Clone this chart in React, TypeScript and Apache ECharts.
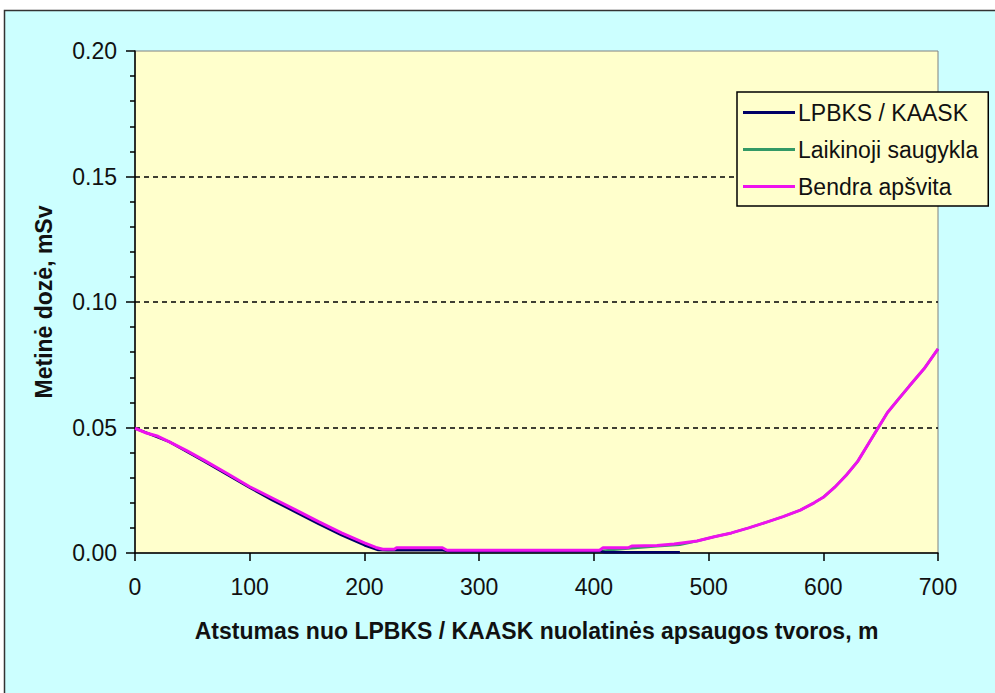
import React, { useEffect, useRef } from "react";
import * as echarts from "echarts";

// Distances (m) and annual doses (mSv)
const bendraX = [0, 10, 20, 30, 45, 60, 80, 100, 120, 140, 160, 180, 200, 210, 216, 226, 228, 268, 272, 405, 408, 430, 433, 455, 470, 490, 505, 520, 535, 550, 565, 580, 592, 600, 610, 620, 630, 640, 648, 656, 665, 675, 688, 700];
const bendraY = [0.0497, 0.0478, 0.0465, 0.0443, 0.0408, 0.037, 0.0318, 0.0264, 0.0218, 0.0172, 0.0125, 0.008, 0.004, 0.0022, 0.0015, 0.0015, 0.0021, 0.0021, 0.0011, 0.0011, 0.0021, 0.0021, 0.0028, 0.003, 0.0036, 0.0048, 0.0065, 0.008, 0.01, 0.0122, 0.0145, 0.0171, 0.02, 0.0222, 0.0262, 0.031, 0.0365, 0.044, 0.05, 0.056, 0.061, 0.0665, 0.0735, 0.0813];

const lpbksX = [0, 30, 60, 100, 120, 140, 160, 180, 200, 212, 220, 268, 275, 405, 410, 475];
const lpbksY = [0.0497, 0.0443, 0.0366, 0.026, 0.021, 0.0163, 0.0116, 0.0071, 0.0031, 0.0012, 0.0011, 0.0011, 0.0007, 0.0007, 0.0003, 0.0003];

const saugyklaX = [405, 430, 455, 475, 490, 505, 520, 535, 550, 565, 580, 592, 600, 610, 620, 630, 640, 648, 656, 665, 675, 688, 700];
const saugyklaY = [0.0008, 0.0018, 0.0027, 0.0033, 0.0048, 0.0065, 0.008, 0.01, 0.0122, 0.0145, 0.0171, 0.02, 0.0222, 0.0262, 0.031, 0.0365, 0.044, 0.05, 0.056, 0.061, 0.0665, 0.0735, 0.0813];

const seriesNames = ["LPBKS / KAASK", "Laikinoji saugykla", "Bendra apšvita"];
const seriesColors = ["#000066", "#339966", "#EE11EE"];
const xTitle = "Atstumas nuo LPBKS / KAASK nuolatinės apsaugos tvoros, m";
const yTitle = "Metinė dozė, mSv";

const FONT = "'Liberation Sans', Arial, sans-serif";

function pairs(xs: number[], ys: number[]) {
  return xs.map((x, i) => [x, ys[i]]);
}

export default function App() {
  const ref = useRef<HTMLDivElement>(null);
  useEffect(() => {
    if (!ref.current) return;
    const chart = echarts.init(ref.current, null, { renderer: "svg" });
    chart.setOption({
      animation: false,
      backgroundColor: "#CCFFFF",
      textStyle: { fontFamily: FONT },
      graphic: [
        { type: "rect", shape: { x: 0, y: 0, width: 995, height: 10 }, style: { fill: "#ffffff" }, silent: true },
        { type: "rect", shape: { x: 0, y: 0, width: 4, height: 693 }, style: { fill: "#ffffff" }, silent: true },
        {
          type: "polyline",
          shape: { points: [[4.5, 693], [4.5, 10.5], [995, 10.5]] },
          style: { stroke: "#333333", lineWidth: 1.5, fill: null },
          silent: true,
        },
      ],
      grid: {
        left: 135,
        top: 51,
        right: 57,
        bottom: 140,
        show: true,
        backgroundColor: "#FFFFCC",
        borderColor: "#808080",
        borderWidth: 1,
      },
      legend: {
        data: seriesNames,
        orient: "vertical",
        left: 737,
        top: 92,
        backgroundColor: "#FFFFCC",
        borderColor: "#000000",
        borderWidth: 1.5,
        borderRadius: 0,
        padding: [9, 10, 8, 6],
        itemGap: 14,
        itemWidth: 52,
        itemHeight: 3,
        itemStyle: { borderWidth: 0 },
        icon: "rect",
        textStyle: { fontSize: 23, color: "#111111", fontFamily: FONT, padding: [0, 0, 0, -2] },
      },
      xAxis: {
        type: "value",
        min: 0,
        max: 700,
        interval: 100,
        name: xTitle,
        nameLocation: "middle",
        nameGap: 66,
        nameTextStyle: { fontSize: 23, fontWeight: "bold", color: "#111111", fontFamily: FONT },
        axisLine: { show: true, onZero: false, lineStyle: { color: "#000000", width: 1.5 } },
        axisTick: { show: true, length: 8, lineStyle: { color: "#000000", width: 1.5 } },
        axisLabel: { fontSize: 23, color: "#111111", margin: 22, fontFamily: FONT },
        splitLine: { show: false },
      },
      yAxis: {
        type: "value",
        min: 0,
        max: 0.2,
        interval: 0.05,
        name: yTitle,
        nameLocation: "middle",
        nameRotate: 90,
        nameGap: 80,
        nameTextStyle: { fontSize: 23, fontWeight: "bold", color: "#111111", fontFamily: FONT },
        axisLine: { show: true, lineStyle: { color: "#000000", width: 1.5 } },
        axisTick: { show: true, length: 9, lineStyle: { color: "#000000", width: 1.5 } },
        minorTick: { show: true, splitNumber: 5, length: 5, lineStyle: { color: "#000000", width: 1.5 } },
        axisLabel: {
          fontSize: 23,
          color: "#111111",
          margin: 18,
          fontFamily: FONT,
          formatter: (v: number) => v.toFixed(2),
        },
        splitLine: {
          show: true,
          showMinLine: false,
          showMaxLine: false,
          lineStyle: { color: "#000000", width: 1.7, type: [5, 4] },
        },
      },
      series: [
        {
          name: seriesNames[0],
          type: "line",
          data: pairs(lpbksX, lpbksY),
          showSymbol: false,
          symbol: "none",
          color: seriesColors[0],
          lineStyle: { color: seriesColors[0], width: 2.5 },
          z: 3,
        },
        {
          name: seriesNames[1],
          type: "line",
          data: pairs(saugyklaX, saugyklaY),
          showSymbol: false,
          symbol: "none",
          color: seriesColors[1],
          lineStyle: { color: seriesColors[1], width: 2.5 },
          z: 2,
        },
        {
          name: seriesNames[2],
          type: "line",
          data: pairs(bendraX, bendraY),
          showSymbol: false,
          symbol: "none",
          color: seriesColors[2],
          lineStyle: { color: seriesColors[2], width: 3 },
          z: 4,
        },
      ],
    });
    return () => chart.dispose();
  }, []);
  return (
    <div style={{ position: "fixed", left: 0, top: 0, width: 995, height: 693, background: "#fff" }}>
      <div ref={ref} style={{ width: 995, height: 693 }} />
    </div>
  );
}
